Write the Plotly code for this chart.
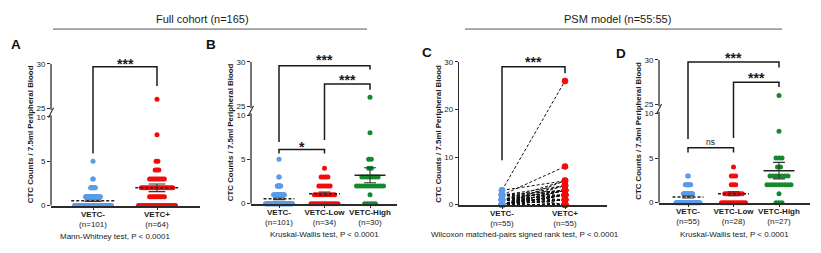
import numpy as np
import plotly.graph_objects as go

W, H = 821, 253
FONT = "Liberation Sans, Arial, sans-serif"
TXT = "#1a1a1a"
AX = "#2b2b2b"
BLUE, RED, GREEN = "#5B9BEA", "#F50A0A", "#15892E"

# ---------------- data ----------------
levels = [0, 1, 2, 3, 4, 5, 8, 26]          # CTC count levels
full_neg = [63, 26, 9, 2, 0, 1, 0, 0]        # VETC-  n=101
full_pos = [21, 9, 18, 9, 3, 2, 1, 1]        # VETC+  n=64
full_low = [13, 10, 6, 4, 1, 0, 0, 0]        # VETC-Low n=34
full_high = [5, 1, 11, 7, 2, 2, 1, 1]        # VETC-High n=30
psm_neg = [32, 13, 8, 2, 0, 0, 0, 0]         # PSM VETC- n=55
psm_low = [12, 9, 3, 3, 1, 0, 0, 0]          # PSM VETC-Low n=28
psm_high = [3, 1, 9, 7, 2, 3, 1, 1]          # PSM VETC-High n=27

# matched pairs (PSM cohort): VETC- value and its matched VETC+ value
pair_neg = [3, 2, 3, 1, 0, 2, 0, 1,
            2, 1, 0, 0, 1, 0, 2, 0, 1, 0,
            0, 1, 0, 2, 0, 0, 1, 0, 2, 0, 1, 0,
            0, 0, 1, 0, 2, 0, 1, 0, 0, 1,
            2, 1, 1, 0, 0, 0, 0, 0, 0, 0, 0, 0, 0, 0, 0]
pair_pos = [26, 8, 5, 5, 5, 4, 4, 4,
            3, 3, 3, 3, 3, 3, 3, 3, 3, 3,
            2, 2, 2, 2, 2, 2, 2, 2, 2, 2, 2, 2,
            1, 1, 1, 1, 1, 1, 1, 1, 1, 1,
            0, 0, 0, 0, 0, 0, 0, 0, 0, 0, 0, 0, 0, 0, 0]

cats_A = ["<b>VETC-</b><br>(n=101)", "<b>VETC+</b><br>(n=64)"]
cats_B = ["<b>VETC-</b><br>(n=101)", "<b>VETC-Low</b><br>(n=34)", "<b>VETC-High</b><br>(n=30)"]
cats_C = ["<b>VETC-</b><br>(n=55)", "<b>VETC+</b><br>(n=55)"]
cats_D = ["<b>VETC-</b><br>(n=55)", "<b>VETC-Low</b><br>(n=28)", "<b>VETC-High</b><br>(n=27)"]

broken_ticks = [0, 5, 10, 25, 30]
linear_ticks = [0, 10, 20, 30]
Y_TITLE = "<b>CTC Counts / 7.5ml Peripheral Blood</b>"


def disp(v):
    """broken axis: 0-10 shown as is, 25-30 shown right above 10 (+1 gap)"""
    v = np.asarray(v, dtype=float)
    return np.where(v <= 10, v, v - 14)


def stats(counts):
    vals = np.repeat(levels, counts).astype(float)
    m = vals.mean()
    sem = vals.std(ddof=1) / np.sqrt(len(vals))
    return m, sem


fig = go.Figure()

# panel geometry (pixels)
panels = {
    "A": dict(n=1, x0=51, x1=200, yb=209, yt=62, ppu=64, first=93, ncat=2, broken=True, maxw=37),
    "B": dict(n=2, x0=251, x1=397, yb=207, yt=60, ppu=45.5, first=279, ncat=3, broken=True, maxw=27),
    "C": dict(n=3, x0=459, x1=607, yb=208, yt=60, ppu=63, first=502, ncat=2, broken=False, maxw=0),
    "D": dict(n=4, x0=659, x1=810, yb=206, yt=58, ppu=45.5, first=688, ncat=3, broken=True, maxw=24),
}
cats = {"A": cats_A, "B": cats_B, "C": cats_C, "D": cats_D}
groups = {
    "A": [(full_neg, BLUE, "dash"), (full_pos, RED, "dash")],
    "B": [(full_neg, BLUE, "dash"), (full_low, RED, "dash"), (full_high, GREEN, "solid")],
    "D": [(psm_neg, BLUE, "dash"), (psm_low, RED, "dash"), (psm_high, GREEN, "solid")],
}

shapes = []
annotations = []


def ax_names(n):
    return ("x" if n == 1 else f"x{n}"), ("y" if n == 1 else f"y{n}")


def paper_y(key, v):
    p = panels[key]
    top = 16 if p["broken"] else 30
    py = p["yb"] - v * (p["yb"] - p["yt"]) / top
    return 1 - py / H


for key, p in panels.items():
    n = p["n"]
    xr, yr = ax_names(n)
    left = -(p["first"] - p["x0"]) / p["ppu"]
    right = (p["ncat"] - 1) + (p["x1"] - (p["first"] + (p["ncat"] - 1) * p["ppu"])) / p["ppu"]
    xa = dict(domain=[p["x0"] / W, p["x1"] / W], range=[left, right], anchor=yr,
              tickvals=list(range(p["ncat"])), ticktext=cats[key],
              showline=True, linecolor=AX, linewidth=1.6, ticks="outside", ticklen=3,
              tickwidth=1.2, tickcolor=AX, showgrid=False, zeroline=False, ticklabelstandoff=-3,
              tickfont=dict(size=8, color=TXT, family=FONT), fixedrange=True)
    if p["broken"]:
        yrange = [0, 16]
        tv = list(disp(broken_ticks))
        tt = [str(t) for t in broken_ticks]
    else:
        yrange = [0, 30]
        tv = linear_ticks
        tt = [str(t) for t in linear_ticks]
    ya = dict(domain=[(H - p["yb"]) / H, (H - p["yt"]) / H], range=yrange, anchor=xr,
              tickvals=tv, ticktext=tt, showline=not p["broken"], linecolor=AX, linewidth=1.3,
              ticks="outside", ticklen=3, tickwidth=1.2, tickcolor=AX, showgrid=False,
              zeroline=False, tickfont=dict(size=8, color=TXT, family=FONT), fixedrange=True)
    fig.layout["xaxis" if n == 1 else f"xaxis{n}"] = xa
    fig.layout["yaxis" if n == 1 else f"yaxis{n}"] = ya

    if p["broken"]:
        # axis line in two segments with break mark
        shapes.append(dict(type="line", xref=f"{xr} domain", yref=yr, x0=0, x1=0, y0=0, y1=10.2,
                           line=dict(color=AX, width=1.3)))
        shapes.append(dict(type="line", xref=f"{xr} domain", yref=yr, x0=0, x1=0, y0=10.8, y1=16,
                           line=dict(color=AX, width=1.3)))
        shapes.append(dict(type="line", xref=f"{xr} domain", yref=yr, xsizemode="pixel", xanchor=0,
                           x0=-2.5, x1=2.5, y0=9.95, y1=11.05, line=dict(color=AX, width=1.1)))

    # y title
    annotations.append(dict(text=Y_TITLE, textangle=-90, xref="paper", yref="paper",
                             x=(p["x0"] - 20.5) / W, y=1 - ((p["yb"] + p["yt"]) / 2) / H,
                             showarrow=False, xanchor="center", yanchor="middle",
                             font=dict(size=7.9, color=TXT, family=FONT)))

    if key in groups:
        for ci, (counts, col, dash) in enumerate(groups[key]):
            mx = max(counts)
            s_px = min(4.0, p["maxw"] / (mx - 1)) if mx > 1 else 0
            s = s_px / p["ppu"]
            xs, ys = [], []
            for lv, c in zip(levels, counts):
                for i in range(c):
                    xs.append(ci + (i - (c - 1) / 2) * s)
                    ys.append(lv)
            fig.add_trace(go.Scatter(x=xs, y=disp(ys), mode="markers", xaxis=xr, yaxis=yr,
                                     marker=dict(size=5, color=col, line=dict(width=0)),
                                     cliponaxis=False, hoverinfo="skip", showlegend=False))
            m, se = stats(counts)
            hw = 0.34
            cw = 0.13
            fig.add_trace(go.Scatter(x=[ci - hw, ci + hw], y=disp([m, m]), mode="lines",
                                     xaxis=xr, yaxis=yr, line=dict(color="#222", width=1.5, dash="3px,2px" if dash == "dash" else "solid"),
                                     hoverinfo="skip", showlegend=False))
            lo, hi = disp([m - se, m + se])
            fig.add_trace(go.Scatter(x=[ci, ci, None, ci - cw, ci + cw, None, ci - cw, ci + cw],
                                     y=[lo, hi, None, lo, lo, None, hi, hi], mode="lines",
                                     xaxis=xr, yaxis=yr, line=dict(color="#333", width=1.1),
                                     hoverinfo="skip", showlegend=False))

# panel C paired data
lx, ly = [], []
for a, b in zip(pair_neg, pair_pos):
    lx += [0, 1, None]
    ly += [a, b, None]
fig.add_trace(go.Scatter(x=lx, y=ly, mode="lines", xaxis="x3", yaxis="y3",
                         line=dict(color="#111", width=1, dash="3px,2px"), hoverinfo="skip", showlegend=False))
fig.add_trace(go.Scatter(x=[0] * len(pair_neg), y=pair_neg, mode="markers", xaxis="x3", yaxis="y3",
                         marker=dict(size=6.5, color=BLUE), cliponaxis=False, hoverinfo="skip", showlegend=False))
fig.add_trace(go.Scatter(x=[1] * len(pair_pos), y=pair_pos, mode="markers", xaxis="x3", yaxis="y3",
                         marker=dict(size=6.5, color=RED), cliponaxis=False, hoverinfo="skip", showlegend=False))

# significance brackets: (panel, x_left, x_right, y_top, y_left_end, y_right_end, label, label_y)
brackets = [
    ("A", 0, 1, 15.67, 5.88, 13.5, "***", 16.3),
    ("B", 0, 2, 15.56, 6.97, 15.13, "***", 16.54),
    ("B", 1, 2, 13.5, 7.18, 12.84, "***", 14.26),
    ("B", 0, 1, 6.1, 5.66, 5.66, "*", 6.75),
    ("C", 0, 1, 29.0, 9.3, 27.6, "***", 30.6),
    ("D", 0, 2, 15.78, 7.14, 15.14, "***", 16.54),
    ("D", 1, 2, 13.5, 7.24, 12.97, "***", 14.27),
    ("D", 0, 1, 6.16, 5.62, 5.62, "ns", 6.81),
]
for key, xl, xrr, yt, yl, yrr, lab, ly_ in brackets:
    xr, yr = ax_names(panels[key]["n"])
    shapes.append(dict(type="path", xref=xr, yref=yr,
                       path=f"M {xl},{yl} L {xl},{yt} L {xrr},{yt} L {xrr},{yrr}",
                       line=dict(color="#1a1a1a", width=1.5)))
    if lab == "ns":
        annotations.append(dict(text="ns", xref=xr, yref="paper", x=(xl + xrr) / 2, y=paper_y(key, ly_),
                                showarrow=False, yanchor="middle",
                                font=dict(size=8.5, color=TXT, family=FONT)))
    else:
        annotations.append(dict(text=f"<b>{lab}</b>", xref=xr, yref="paper", x=(xl + xrr) / 2,
                                y=paper_y(key, ly_), showarrow=False, yanchor="middle", yshift=-3,
                                font=dict(size=14, color=TXT, family=FONT)))

# panel letters
for lab, px, py in [("A", 16, 42.5), ("B", 211, 42), ("C", 426.5, 50), ("D", 621, 51)]:
    annotations.append(dict(text=f"<b>{lab}</b>", xref="paper", yref="paper", x=px / W, y=1 - py / H,
                            showarrow=False, xanchor="center", yanchor="middle",
                            font=dict(size=13.5, color="#111", family=FONT)))

# test captions
for txt, px, py in [("Mann-Whitney test, P < 0.0001", 115, 241),
                    ("Kruskal-Wallis test, P < 0.0001", 324, 239.5),
                    ("Wilcoxon matched-pairs signed rank test, P < 0.0001", 525, 239),
                    ("Kruskal-Wallis test, P < 0.0001", 734, 239)]:
    annotations.append(dict(text=txt, xref="paper", yref="paper", x=px / W, y=1 - py / H,
                            showarrow=False, xanchor="center", yanchor="middle",
                            font=dict(size=8, color=TXT, family=FONT)))

# cohort headers
for txt, px, l0, l1 in [("Full cohort (n=165)", 202.5, 53, 367), ("PSM model (n=55:55)", 617, 465, 782)]:
    annotations.append(dict(text=txt, xref="paper", yref="paper", x=px / W, y=1 - 16 / H,
                            showarrow=False, xanchor="center", yanchor="middle",
                            font=dict(size=11, color=TXT, family=FONT)))
    shapes.append(dict(type="line", xref="paper", yref="paper", x0=l0 / W, x1=l1 / W,
                       y0=1 - 26 / H, y1=1 - 26 / H, line=dict(color="#555", width=1)))

fig.update_layout(width=W, height=H, margin=dict(l=0, r=0, t=0, b=0),
                  paper_bgcolor="white", plot_bgcolor="white",
                  shapes=shapes, annotations=annotations, showlegend=False,
                  font=dict(family=FONT, color=TXT))

fig.write_html("out.html", config={"displayModeBar": False},
               post_script="document.body.style.margin='0px';document.body.style.overflow='hidden';")
